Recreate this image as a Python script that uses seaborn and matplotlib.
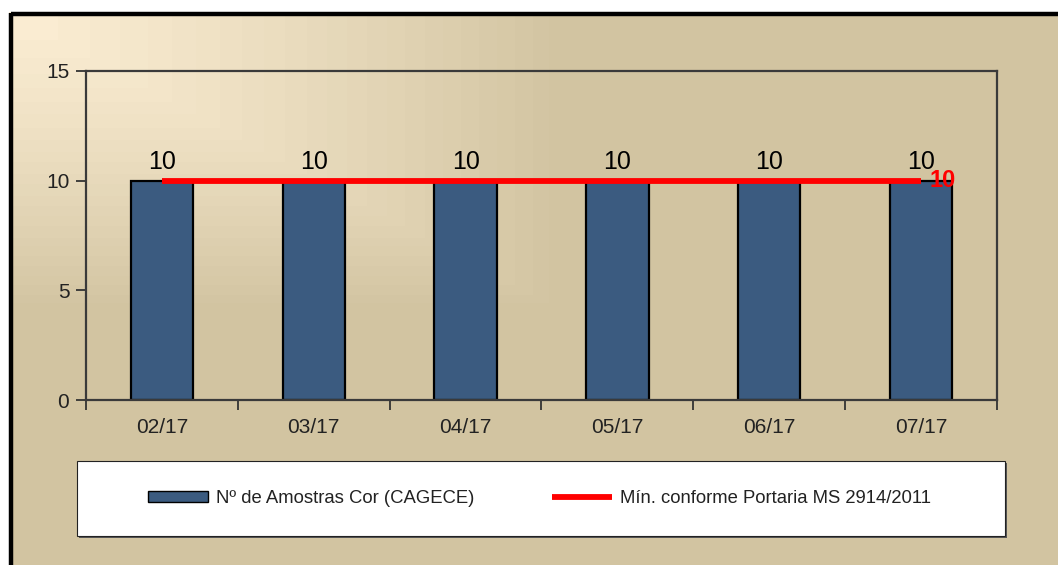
import numpy as np
import pandas as pd
import matplotlib
matplotlib.use("Agg")
import matplotlib.pyplot as plt
from matplotlib.patches import Rectangle
from matplotlib.lines import Line2D
from matplotlib.patches import Patch
import seaborn as sns

# ---- data ----
categories = ["02/17", "03/17", "04/17", "05/17", "06/17", "07/17"]
amostras = [10, 10, 10, 10, 10, 10]
minimo = [10, 10, 10, 10, 10, 10]
bar_label_name = "Nº de Amostras Cor (CAGECE)"
line_label_name = "Mín. conforme Portaria MS 2914/2011"
y_ticks = [0, 5, 10, 15]

sns.set_theme(style="white")
plt.rcParams['font.family'] = ['Liberation Sans', 'DejaVu Sans']

W, H = 1058, 565
fig = plt.figure(figsize=(W / 100, H / 100), dpi=100)
fig.patch.set_facecolor("white")

def fx(px):
    return px / W

def fy(py):
    return 1 - py / H

tan = np.array([0xD2, 0xC4, 0xA1]) / 255
cream = np.array([0xFA, 0xEC, 0xD2]) / 255

# background gradient axes
bg = fig.add_axes([0, 0, 1, 1], zorder=-10)
bg.set_axis_off()
bg.set_xlim(0, W)
bg.set_ylim(H, 0)
gx = np.linspace(0, W, 530)
gy = np.linspace(0, H, 283)
GX, GY = np.meshgrid(gx, gy)
t = np.clip(np.maximum((GX - 10) / 540, (GY - 14) / 290), 0, 1) ** 1.3
t = np.floor(t * 24) / 24
img = cream[None, None, :] * (1 - t[..., None]) + tan[None, None, :] * t[..., None]
bg.imshow(img, extent=(0, W, H, 0), aspect="auto", interpolation="nearest")
# white margins and black border
bg.add_patch(Rectangle((0, 0), W, 12, facecolor="white", edgecolor="none"))
bg.add_patch(Rectangle((0, 0), 9, H, facecolor="white", edgecolor="none"))
bg.plot([10.5, W + 5], [14, 14], color="black", lw=3.2, solid_capstyle="butt")
bg.plot([10.5, 10.5], [12.5, H + 5], color="black", lw=3.2, solid_capstyle="butt")

# legend box
bg.add_patch(Rectangle((78.5, 462.5), 928, 75, facecolor="#555555", edgecolor="none", zorder=1))
bg.add_patch(Rectangle((77, 461), 928, 75, facecolor="white", edgecolor="#222222", lw=0.8, zorder=2))

# main axes
ax = fig.add_axes([fx(86), fy(400), fx(997) - fx(86), fy(71) - fy(400)])
ax.patch.set_alpha(0)

df = pd.DataFrame({"mes": categories, "amostras": amostras})
sns.barplot(data=df, x="mes", y="amostras", color="#3B5B80", width=0.41,
            edgecolor="black", linewidth=1.6, saturation=1, ax=ax, zorder=2)
for c in ax.containers:
    ax.bar_label(c, labels=[str(v) for v in amostras], padding=5, fontsize=18, color="black")

xpos = np.arange(len(categories))
ax.plot(xpos, minimo, color="#FF0000", lw=4.2, zorder=3, solid_capstyle="butt")
ax.annotate(str(minimo[-1]), xy=(xpos[-1], minimo[-1]), xytext=(6, 0), textcoords="offset points",
            ha="left", va="center", fontsize=17, fontweight="bold", color="#FF0000", zorder=4)

ax.set_xlim(-0.5, len(categories) - 0.5)
ax.set_ylim(0, 15)
ax.set_yticks(y_ticks)
ax.set_xlabel("")
ax.set_ylabel("")
ax.set_xticks(xpos)
ax.set_xticklabels(categories)
ax.set_xticks(np.arange(-0.5, len(categories)), minor=True)
ax.tick_params(axis="x", which="major", length=0, pad=13, labelsize=15, labelcolor="#222222")
ax.tick_params(axis="x", which="minor", length=7, width=1.3, color="#333333", direction="out", bottom=True)
ax.tick_params(axis="y", which="major", length=7, width=1.3, color="#333333", direction="out",
               left=True, pad=5, labelsize=15, labelcolor="#222222")
for s in ax.spines.values():
    s.set_visible(True)
    s.set_color("#3a3a3a")
    s.set_linewidth(1.6)
ax.grid(False)

handles = [Patch(facecolor="#3B5B80", edgecolor="black", linewidth=1.0),
           Line2D([0], [0], color="#FF0000", lw=4.2, solid_capstyle="butt")]
leg = fig.legend(handles, [bar_label_name, line_label_name], loc="center left",
                 bbox_to_anchor=(fx(148), fy(498.5)), borderaxespad=0, borderpad=0,
                 ncol=2, frameon=False,
                 handlelength=3.25, handleheight=0.6, handletextpad=0.43, columnspacing=4.2,
                 prop={"family": ["Liberation Sans"], "size": 13.3})
for txt in leg.get_texts():
    txt.set_color("#222222")

fig.savefig("out.png", dpi=100)
